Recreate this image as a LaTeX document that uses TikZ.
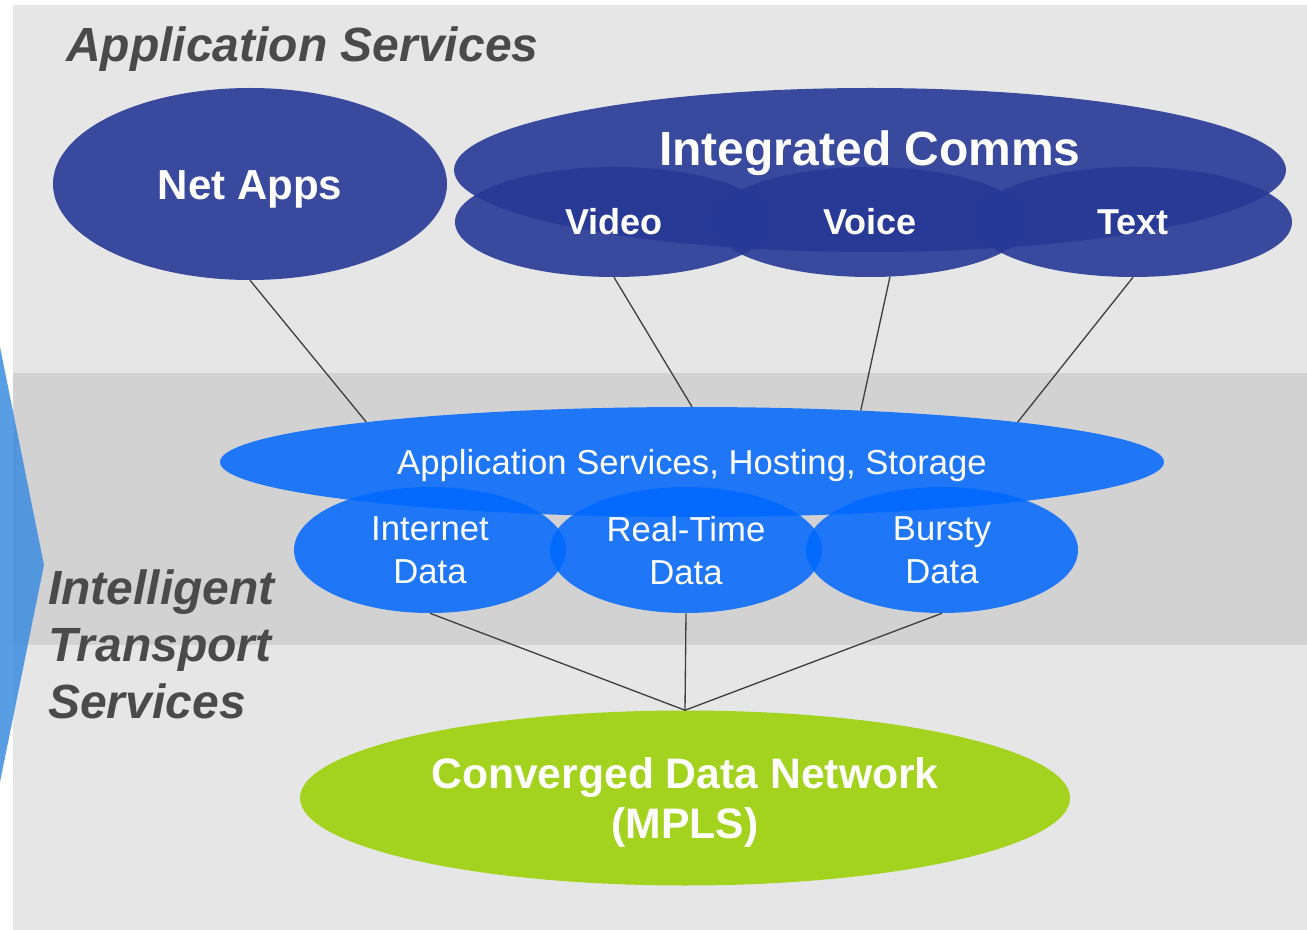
\documentclass[tikz,border=0pt]{standalone}
\usepackage{fontspec}
\setmainfont{Liberation Sans}
\usetikzlibrary{shapes.geometric}
\definecolor{navy}{RGB}{39,57,150}
\definecolor{skyblue}{RGB}{0,104,255}
\definecolor{limegreen}{RGB}{160,210,20}
\definecolor{bgray}{RGB}{230,230,230}
\definecolor{bandgray}{RGB}{210,210,210}
\definecolor{textgray}{RGB}{74,74,74}
\definecolor{arrowblue}{RGB}{60,140,225}
\definecolor{linegray}{RGB}{64,64,64}

\begin{document}
\begin{tikzpicture}[x=0.75pt,y=-0.75pt,
    blob/.style={ellipse,inner sep=0pt,text=white,fill opacity=0.9,text opacity=1,text depth=0pt},
    blobsize/.style 2 args={minimum width=#1*0.75pt,minimum height=#2*0.75pt},
    heading/.style={inner sep=0pt,text=textgray,font=\fontsize{36}{42.75}\bfseries\itshape\selectfont},
    wire/.style={linegray,line width=1pt}]
    \useasboundingbox (0,0) rectangle (1307,930);
    \fill[white] (0,0) rectangle (1307,930);
    \fill[bgray] (13,5) rectangle (1307,930);
    \fill[bandgray] (13,373) rectangle (1307,645);
    \fill[arrowblue,opacity=0.85] (0,347)--(44,565)--(0,782)--cycle;

    \node[heading,anchor=base west] (apptitle) at (66,62) {Application Services};
    \node[heading,anchor=base west,align=left] (transtitle) at (48,718) {Intelligent\\Transport\\Services};

    \node[blob,fill=navy,blobsize={394}{192},text height=22.6pt,font=\fontsize{31.5}{36}\bfseries\selectfont] (netapps) at (250,184) {Net Apps};
    \node[blob,fill=navy,blobsize={832}{164}] (comms) at (870,170) {};
    \node[blob,fill=navy,blobsize={318}{110},text height=19.3pt,font=\fontsize{27}{32}\bfseries\selectfont] (video) at (614,222) {Video};
    \node[blob,fill=navy,blobsize={318}{110},text height=19.3pt,font=\fontsize{27}{32}\bfseries\selectfont] (voice) at (870,222) {Voice};
    \node[blob,fill=navy,blobsize={318}{110},text height=19.3pt,font=\fontsize{27}{32}\bfseries\selectfont] (text) at (1133,222) {Text};
    \node[inner sep=0pt,text=white,text height=25.8pt,text depth=0pt,font=\fontsize{36}{42}\bfseries\selectfont] (commstitle) at (870,148) {Integrated Comms};

    \node[blob,fill=skyblue,fill opacity=0.85,blobsize={944}{110},text height=18.6pt,font=\fontsize{26}{32.25}\selectfont] (apphost) at (692,462) {Application Services, Hosting, Storage};
    \node[blob,fill=skyblue,fill opacity=0.85,blobsize={272}{126},align=center,font=\fontsize{26}{32.25}\selectfont] (internet) at (430,550) {Internet\\Data};
    \node[blob,fill=skyblue,fill opacity=0.85,blobsize={272}{126},align=center,font=\fontsize{26}{32.25}\selectfont] (realtime) at (686,550) {Real-Time\\Data};
    \node[blob,fill=skyblue,fill opacity=0.85,blobsize={272}{126},align=center,font=\fontsize{26}{32.25}\selectfont] (bursty) at (942,550) {Bursty\\Data};

    \node[blob,fill=limegreen,fill opacity=0.95,blobsize={770}{175},align=center,font=\fontsize{32}{37.5}\bfseries\selectfont] (mpls) at (685,798) {Converged Data Network\\(MPLS)};

    \draw[wire] (netapps.south)--(apphost.173);
    \draw[wire] (video.south)--(apphost.north);
    \draw[wire] (voice.-70)--(apphost.17);
    \draw[wire] (text.south)--(apphost.7);
    \draw[wire] (internet.south)--(mpls.north);
    \draw[wire] (realtime.south)--(mpls.north);
    \draw[wire] (bursty.south)--(mpls.north);
\end{tikzpicture}
\end{document}
